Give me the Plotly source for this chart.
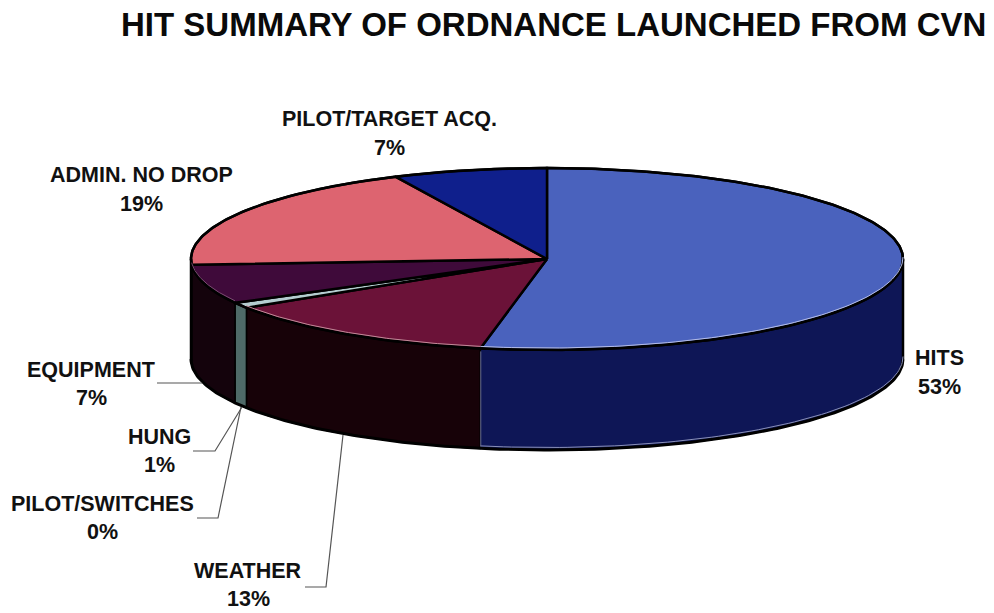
import numpy as np
import plotly.graph_objects as go

categories = ["HITS", "WEATHER", "PILOT/SWITCHES", "HUNG", "EQUIPMENT", "ADMIN. NO DROP", "PILOT/TARGET ACQ."]
values = [53, 13, 0, 1, 7, 19, 7]
top_colors = ["#4a62bd", "#6b1238", "#c8dcdc", "#b5cdd0", "#3f0a3a", "#dd6470", "#0f1f8c"]
side_colors = ["#0e1656", "#170208", "#c8dcdc", "#4f6a68", "#14030c", "#dd6470", "#0f1f8c"]
rim_colors = ["#b4bce6", "#c08a98", None, None, "#7a4a70", None, None]
title = "HIT SUMMARY OF ORDNANCE LAUNCHED FROM CVN"

W, H = 994, 613
CX, CY, RX, RY, DEPTH = 547, 259, 356, 91, 100

def pt(t_deg, dy=0, k=1.0):
    t = np.radians(t_deg)
    return CX + k * RX * np.sin(t), CY - k * RY * np.cos(t) + dy

fig = go.Figure()
edges = np.cumsum([0] + values) / sum(values) * 360

# side walls
for i in range(len(values)):
    a, b = max(edges[i], 90), min(edges[i + 1], 270)
    if b <= a:
        continue
    ts = np.linspace(a, b, 80)
    x1, y1 = pt(ts)
    x2, y2 = pt(ts[::-1], DEPTH)
    fig.add_trace(go.Scatter(x=np.r_[x1, x2, x1[0]], y=np.r_[y1, y2, y1[0]], mode="lines", fill="toself",
                             fillcolor=side_colors[i], line=dict(color="#000000", width=1.5), hoverinfo="skip"))

# top slices
for i in range(len(values)):
    ts = np.linspace(edges[i], edges[i + 1], max(2, int(values[i] * 6)))
    x1, y1 = pt(ts)
    fig.add_trace(go.Scatter(x=np.r_[CX, x1, CX], y=np.r_[CY, y1, CY], mode="lines", fill="toself",
                             fillcolor=top_colors[i],
                             line=dict(color="#000000", width=1 if values[i] == 0 else 2.5),
                             name=categories[i], hoverinfo="name"))

# outlines
ts = np.linspace(90, 270, 200)
x, y = pt(ts, DEPTH)
fig.add_trace(go.Scatter(x=x, y=y, mode="lines", line=dict(color="#000000", width=3), hoverinfo="skip"))
ts = np.linspace(0, 360, 400)
x, y = pt(ts)
fig.add_trace(go.Scatter(x=x, y=y, mode="lines", line=dict(color="#000000", width=2.5), hoverinfo="skip"))
for t in (90, 270):
    x, y = pt(np.array([t, t]), np.array([0, DEPTH]))
    fig.add_trace(go.Scatter(x=x, y=y, mode="lines", line=dict(color="#000000", width=2.5), hoverinfo="skip"))

# pale highlights just inside the front rim of the top face
for i, c in enumerate(rim_colors):
    a, b = max(edges[i], 90), min(edges[i + 1], 270)
    if c is None or b <= a:
        continue
    x, y = pt(np.linspace(a, b, 80), -2.0)
    fig.add_trace(go.Scatter(x=x, y=y, mode="lines", line=dict(color=c, width=1), hoverinfo="skip"))

# pale highlight on the lower rim and the wall edge of the first slice
x, y = pt(np.linspace(90, edges[1], 80), DEPTH - 2.5)
fig.add_trace(go.Scatter(x=x, y=y, mode="lines", line=dict(color="#8a90b8", width=1), hoverinfo="skip"))
x, y = pt(np.array([edges[1], edges[1]]), np.array([3, DEPTH - 2]))
fig.add_trace(go.Scatter(x=x + 0.5, y=y, mode="lines", line=dict(color="#6a7098", width=1), hoverinfo="skip"))

# leader lines
leader_x = [[157, 202], [193, 215, 242], [197, 218, 241], [305, 326, 343]]
leader_y = [[383, 383], [451, 451, 407], [518, 518, 407], [587, 587, 435]]
for lx, ly in zip(leader_x, leader_y):
    fig.add_trace(go.Scatter(x=lx, y=ly, mode="lines", line=dict(color="#555555", width=1.2), hoverinfo="skip"))

# labels
label_x = [939, 248, 102, 159, 91, 141, 389]
label_y = [358, 570.5, 503.5, 436.5, 369.5, 175, 119]
for n, v, lx, ly in zip(categories, values, label_x, label_y):
    fig.add_annotation(x=lx, y=ly, text=n, showarrow=False, xanchor="center", yanchor="middle",
                       font=dict(family="Liberation Sans", size=21.5, color="#111111", weight="bold"))
    fig.add_annotation(x=lx, y=ly + 28.5, text=f"{v}%", showarrow=False, xanchor="center", yanchor="middle",
                       font=dict(family="Liberation Sans", size=21.5, color="#111111", weight="bold"))

fig.add_annotation(x=553.5, y=24.5, text=title, showarrow=False, xanchor="center", yanchor="middle",
                   font=dict(family="Liberation Sans", size=33, color="#0a0a0a", weight="bold"))

fig.update_layout(width=W, height=H, margin=dict(l=0, r=0, t=0, b=0), showlegend=False,
                  paper_bgcolor="#ffffff", plot_bgcolor="#ffffff",
                  xaxis=dict(range=[0, W], visible=False, fixedrange=True),
                  yaxis=dict(range=[H, 0], visible=False, fixedrange=True))
fig.write_html("out.html", config={"displayModeBar": False},
               post_script="document.body.style.margin='0';document.body.style.overflow='hidden';")
